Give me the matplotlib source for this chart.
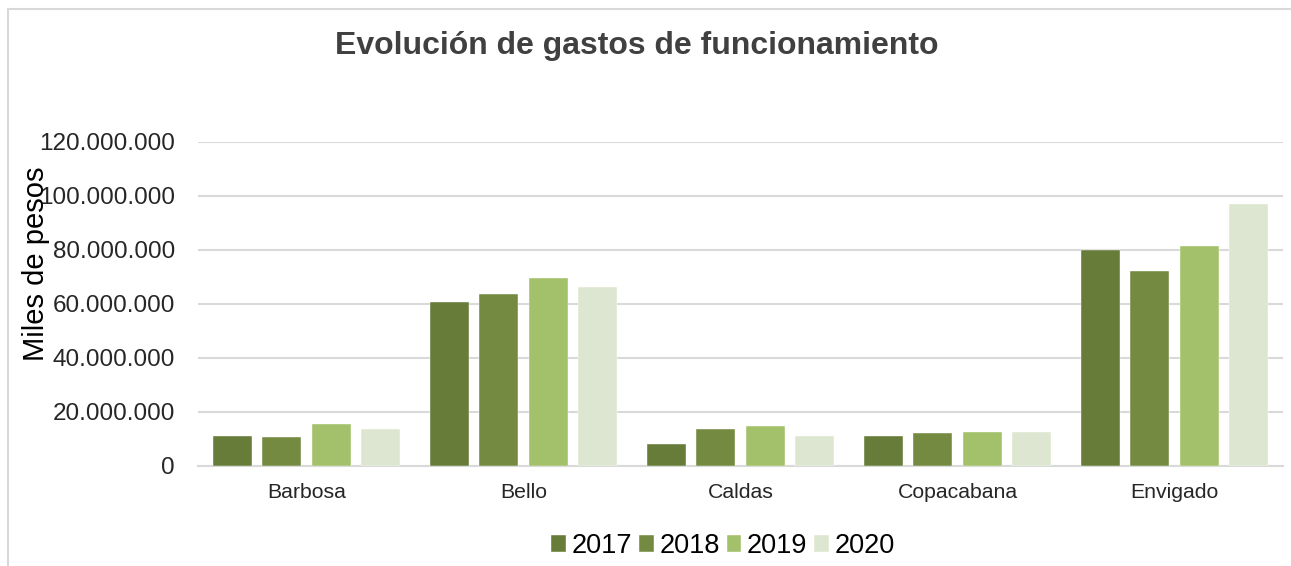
import matplotlib
matplotlib.use("Agg")
import matplotlib.pyplot as plt
import numpy as np
from matplotlib.patches import Rectangle
from matplotlib.ticker import FuncFormatter

plt.rcParams['font.family'] = ['Liberation Sans', 'DejaVu Sans']

categories = ["Barbosa", "Bello", "Caldas", "Copacabana", "Envigado"]
years = ["2017", "2018", "2019", "2020"]
v2017 = [11.2e6, 60.9e6, 8.3e6, 11.2e6, 80.1e6]
v2018 = [10.6e6, 63.6e6, 13.7e6, 12.1e6, 72.1e6]
v2019 = [15.6e6, 69.8e6, 14.9e6, 12.6e6, 81.4e6]
v2020 = [13.7e6, 66.3e6, 11.1e6, 12.6e6, 97.1e6]
series = [v2017, v2018, v2019, v2020]
colors = ["#667C38", "#748A40", "#A3C16A", "#DDE6D0"]
yticks = [0, 20e6, 40e6, 60e6, 80e6, 100e6, 120e6]

W, H = 1291, 566
fig = plt.figure(figsize=(W / 100, H / 100), dpi=100)
ax = fig.add_axes([198 / W, 1 - 466 / H, (1283 - 198) / W, (466 - 142) / H])

x = np.arange(len(categories))
step = 0.227
width = 0.18
for i, (vals, c, lab) in enumerate(zip(series, colors, years)):
    ax.bar(x + (i - 1.5) * step, vals, width, color=c, label=lab,
           edgecolor="#FFFFFF", linewidth=0.3, zorder=3)

ax.set_xlim(-0.5, len(categories) - 0.5)
ax.set_ylim(0, 120e6)
ax.set_yticks(yticks)
ax.yaxis.set_major_formatter(FuncFormatter(lambda v, p: f"{int(v):,}".replace(",", ".")))
ax.set_xticks(x)
ax.set_xticklabels(categories, fontsize=15.3, color="#262626")
ax.tick_params(axis='y', labelsize=17.5, colors="#262626", length=0, pad=16.5)
ax.tick_params(axis='x', length=0, pad=12)
ax.grid(axis='y', color="#D9D9D9", linewidth=1.5, zorder=0)
for s in ["top", "right", "left"]:
    ax.spines[s].set_visible(False)
ax.spines["bottom"].set_color("#D9D9D9")
ax.spines["bottom"].set_linewidth(1.5)

fig.text(36 / W, 1 - 264 / H, "Miles de pesos", rotation=90, fontsize=21,
         ha="center", va="center", color="#000000")
fig.text(637 / W, 1 - 46 / H, "Evolución de gastos de funcionamiento",
         fontsize=23, fontweight="bold", color="#404040", ha="center", va="center")

fig.legend(loc="center", bbox_to_anchor=(723 / W, 1 - 546 / H), ncol=4, frameon=False,
           fontsize=19.5, handlelength=0.55, handleheight=0.55, handletextpad=0.2,
           columnspacing=0.25)

fig.patches.append(Rectangle((8 / W, -0.1), 1.2, 1 - 9 / H + 0.1, transform=fig.transFigure,
                             fill=False, edgecolor="#D9D9D9", linewidth=1.5))

fig.savefig("out.png", dpi=100)
